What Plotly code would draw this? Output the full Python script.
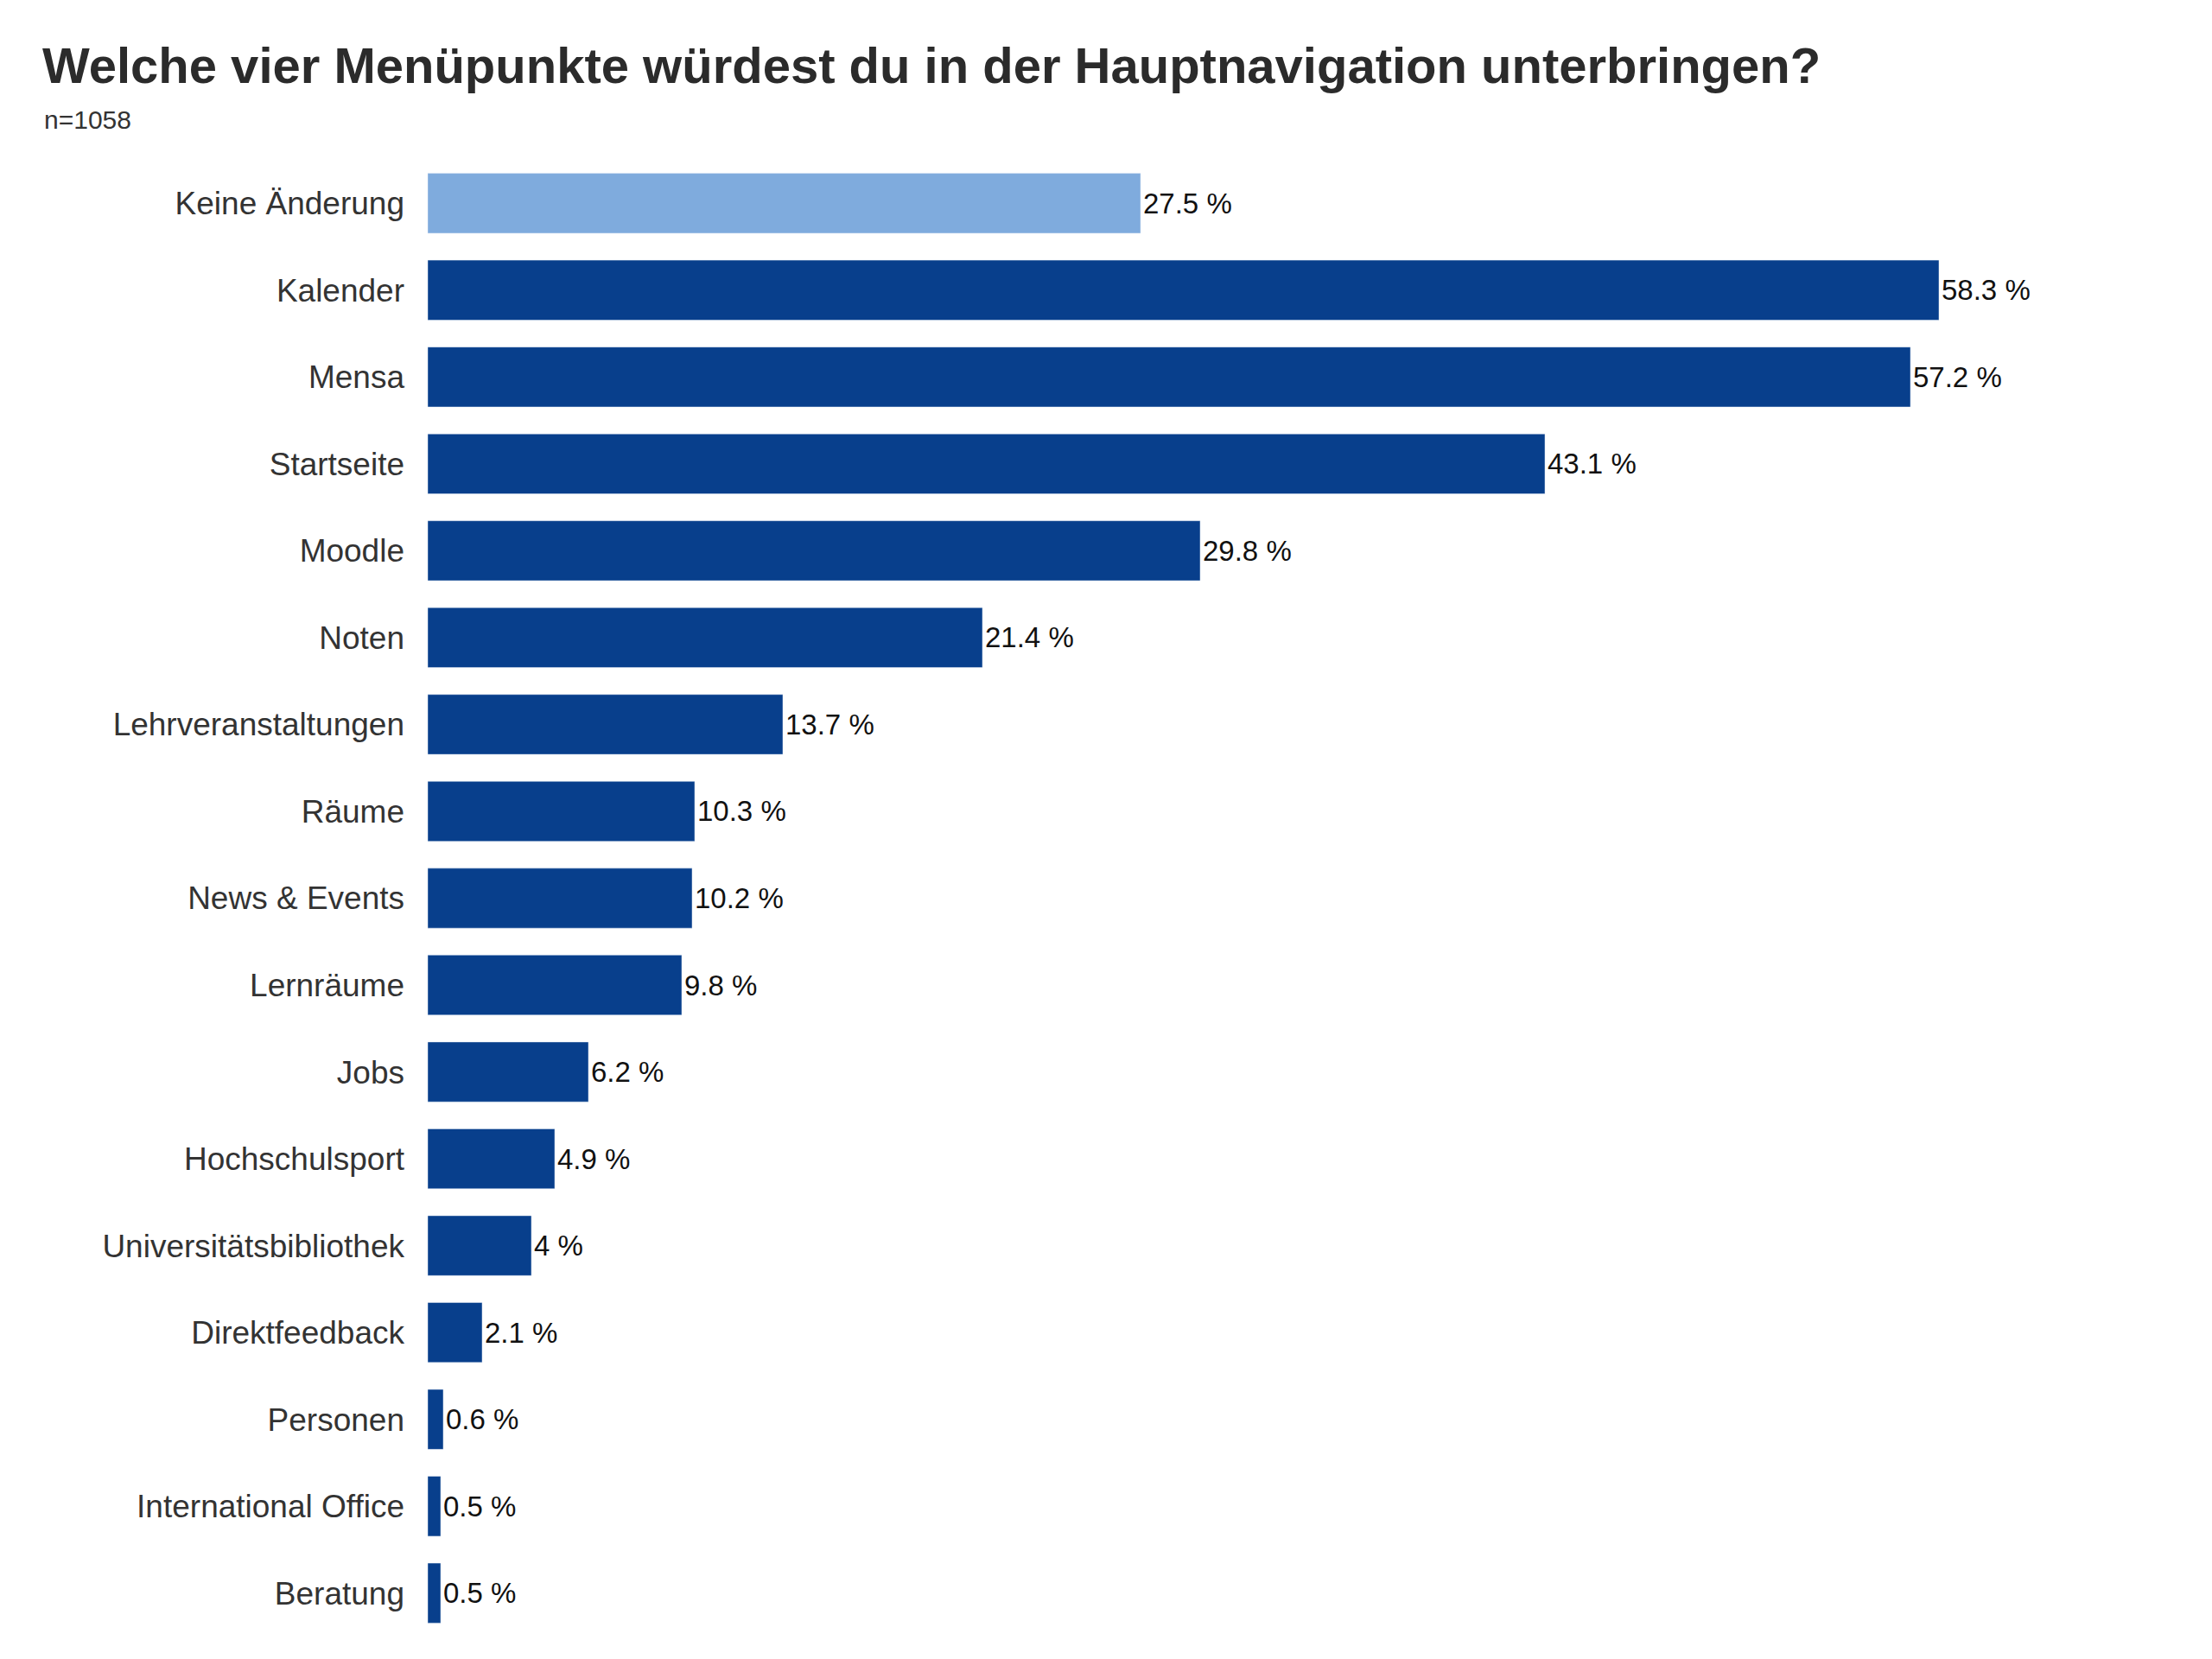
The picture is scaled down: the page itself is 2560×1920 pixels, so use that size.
import plotly.graph_objects as go

categories = ["Keine Änderung","Kalender","Mensa","Startseite","Moodle","Noten","Lehrveranstaltungen","Räume","News & Events","Lernräume","Jobs","Hochschulsport","Universitätsbibliothek","Direktfeedback","Personen","International Office","Beratung"]
values = [27.5,58.3,57.2,43.1,29.8,21.4,13.7,10.3,10.2,9.8,6.2,4.9,4,2.1,0.6,0.5,0.5]
labels = [f"{v:g} %" for v in values]
colors = ["#7FABDD"] + ["#083F8C"]*(len(values)-1)

fig = go.Figure(go.Bar(
    x=values, y=categories, orientation="h", marker_color=colors,
    text=labels, textposition="outside", cliponaxis=False,
    textfont=dict(size=33, color="#111"),
))
fig.update_layout(
    width=2560, height=1920, plot_bgcolor="white", paper_bgcolor="white",
    font=dict(family="Liberation Sans, Arial, sans-serif", color="#333"),
    margin=dict(l=487, r=33, t=177, b=34),
    bargap=0.31, showlegend=False,
    title=dict(text="<b>Welche vier Menüpunkte würdest du in der Hauptnavigation unterbringen?</b>",
               x=41/2560, xanchor="left", y=1-68/1920, yanchor="middle",
               font=dict(size=58, color="#2b2b2b")),
    annotations=[dict(text="n=1058", xref="paper", yref="paper", x=-487/2000+41/2000*0, y=1,
                      showarrow=False)],
)
fig.layout.annotations = []
fig.add_annotation(text="n=1058", xref="paper", yref="paper",
                   x=(41-487)/2040, y=1+(177-130)/1709, xanchor="left", yanchor="middle",
                   showarrow=False, font=dict(size=30, color="#333"))
fig.update_xaxes(range=[0,68], visible=False)
fig.update_yaxes(autorange="reversed", showgrid=False, ticks="", ticklabelstandoff=26,
                 tickfont=dict(size=37, color="#333"))
fig.write_html("out.html")
